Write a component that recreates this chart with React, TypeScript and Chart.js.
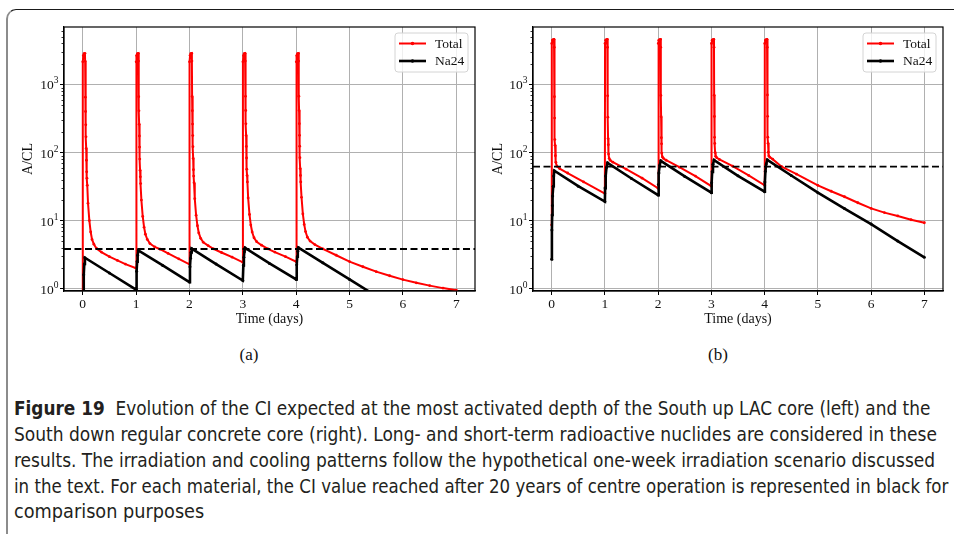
import React, { useEffect, useLayoutEffect, useRef, useState } from 'react';
import { Chart, registerables } from 'chart.js';
Chart.register(...registerables);

// ---------- data ----------
const X_TICKS = [0, 1, 2, 3, 4, 5, 6, 7];
const X_MIN = -0.35;
const X_MAX = 7.35;
const Y_TICKS = [1, 10, 100, 1000];
const Y_EXPONENTS = ['0', '1', '2', '3'];
const Y_MIN = 0.925;
const Y_MAX = 6970;
const SERIES_NAMES = ['Total', 'Na24'];

// (a) South up LAC core
const LEFT_TOTAL: number[][] = [
  [0, 0.5], [0.002, 2150], [0.012, 2650], [0.025, 2820], [0.042, 2860], [0.046, 2200],
  [0.05, 650], [0.054, 400], [0.058, 255], [0.062, 170], [0.066, 115], [0.07, 77], [0.075, 52],
  [0.08, 42], [0.086, 33], [0.1, 18], [0.125, 10], [0.15, 6.8], [0.175, 5.3], [0.21, 4.5],
  [0.26, 3.9], [0.35, 3.45], [0.5, 2.95], [0.65, 2.6], [0.8, 2.3], [1.0, 2.0],
  [1.002, 2150], [1.012, 2650], [1.025, 2820], [1.042, 2860], [1.046, 2200],
  [1.05, 660], [1.054, 410], [1.058, 260], [1.062, 175], [1.066, 120], [1.07, 80], [1.075, 55],
  [1.08, 44], [1.086, 35], [1.1, 20], [1.125, 11.5], [1.15, 8], [1.175, 6.3], [1.21, 5.3],
  [1.26, 4.6], [1.35, 4.1], [1.45, 3.8], [1.6, 3.3], [1.8, 2.75], [2.0, 2.28],
  [2.002, 2150], [2.012, 2650], [2.025, 2820], [2.042, 2860], [2.046, 2200],
  [2.05, 665], [2.054, 412], [2.058, 262], [2.062, 177], [2.066, 122], [2.07, 82], [2.075, 56],
  [2.08, 45], [2.086, 36], [2.1, 21], [2.125, 12], [2.15, 8.4], [2.175, 6.6], [2.21, 5.5],
  [2.26, 4.8], [2.35, 4.3], [2.45, 3.85], [2.6, 3.4], [2.8, 2.9], [3.0, 2.44],
  [3.002, 2150], [3.012, 2650], [3.025, 2820], [3.042, 2860], [3.046, 2200],
  [3.05, 668], [3.054, 414], [3.058, 264], [3.062, 178], [3.066, 123], [3.07, 83], [3.075, 57],
  [3.08, 46], [3.086, 37], [3.1, 21.5], [3.125, 12.3], [3.15, 8.6], [3.175, 6.8], [3.21, 5.6],
  [3.26, 4.9], [3.35, 4.35], [3.47, 3.85], [3.6, 3.45], [3.8, 2.95], [4.0, 2.49],
  [4.002, 2150], [4.012, 2650], [4.025, 2820], [4.042, 2860], [4.046, 2200],
  [4.05, 670], [4.054, 415], [4.058, 265], [4.062, 179], [4.066, 124], [4.07, 84], [4.075, 58],
  [4.08, 46], [4.086, 37], [4.1, 22], [4.125, 12.5], [4.15, 8.8], [4.175, 6.9], [4.21, 5.7],
  [4.26, 5.0], [4.35, 4.45], [4.5, 3.85], [4.75, 3.1], [5.0, 2.5], [5.25, 2.1], [5.5, 1.78],
  [5.75, 1.55], [6.0, 1.36], [6.25, 1.22], [6.5, 1.11], [6.75, 1.02], [7.0, 0.95],
];
const LEFT_NA24: number[][] = [
  [0, 0.14], [0.01, 0.9], [0.02, 1.6], [0.03, 2.3], [0.042, 2.85], [0.5, 1.7], [1.0, 0.97],
  [1.01, 1.8], [1.02, 2.5], [1.03, 3.1], [1.042, 3.65], [1.5, 2.2], [2.0, 1.25],
  [2.01, 2.1], [2.02, 2.8], [2.03, 3.4], [2.042, 3.88], [2.5, 2.3], [3.0, 1.32],
  [3.01, 2.2], [3.02, 2.9], [3.03, 3.5], [3.042, 3.98], [3.5, 2.35], [4.0, 1.37],
  [4.01, 2.25], [4.02, 2.95], [4.03, 3.55], [4.042, 4.02], [4.5, 2.4], [5.0, 1.37],
  [5.5, 0.78], [6.0, 0.45], [6.5, 0.26], [7.0, 0.15],
];
const LEFT_CI = 3.83;

// (b) South down regular concrete core
const RIGHT_TOTAL: number[][] = [
  [0, 8.6], [0.003, 4000], [0.015, 4450], [0.03, 4550], [0.045, 4590], [0.049, 3500],
  [0.052, 660], [0.056, 320], [0.06, 155], [0.064, 128], [0.07, 90], [0.08, 72], [0.1, 63],
  [0.15, 58], [0.3, 50], [0.6, 37], [1.0, 25],
  [1.003, 4000], [1.015, 4450], [1.03, 4550], [1.045, 4590], [1.049, 3500],
  [1.052, 680], [1.056, 330], [1.06, 160], [1.064, 130], [1.07, 95], [1.08, 82], [1.1, 77],
  [1.15, 72], [1.4, 57], [1.7, 42], [2.0, 29.8],
  [2.003, 4000], [2.015, 4450], [2.03, 4550], [2.045, 4590], [2.049, 3500],
  [2.052, 690], [2.056, 335], [2.06, 165], [2.064, 134], [2.07, 98], [2.08, 86], [2.1, 82],
  [2.15, 77], [2.4, 61], [2.7, 45], [3.0, 32],
  [3.003, 4000], [3.015, 4450], [3.03, 4550], [3.045, 4590], [3.049, 3500],
  [3.052, 695], [3.056, 338], [3.06, 167], [3.064, 136], [3.07, 100], [3.08, 88], [3.1, 84],
  [3.15, 79], [3.4, 63], [3.7, 46], [4.0, 33],
  [4.003, 4000], [4.015, 4450], [4.03, 4550], [4.045, 4590], [4.049, 3500],
  [4.052, 700], [4.056, 340], [4.06, 168], [4.064, 137], [4.07, 101], [4.08, 89], [4.1, 85],
  [4.15, 80], [4.32, 62], [4.6, 48], [5.0, 33], [5.25, 27], [5.5, 22.4], [5.75, 18.3],
  [6.0, 15.1], [6.25, 13.1], [6.5, 11.7], [6.75, 10.3], [7.0, 9.3],
];
const RIGHT_NA24: number[][] = [
  [0, 2.7], [0.005, 7.3], [0.01, 12.1], [0.015, 16.6], [0.02, 23], [0.03, 32], [0.04, 45],
  [0.05, 54], [0.5, 32], [1.0, 19.0],
  [1.005, 30], [1.015, 45], [1.03, 60], [1.05, 70.6], [1.5, 41.5], [2.0, 23.7],
  [2.005, 34], [2.015, 50], [2.03, 65], [2.05, 75.5], [2.5, 44.5], [3.0, 25.7],
  [3.005, 36], [3.015, 52], [3.03, 67], [3.05, 77.5], [3.5, 45.5], [4.0, 26.6],
  [4.005, 37], [4.015, 53], [4.03, 68], [4.05, 78], [4.5, 46], [5.0, 25.7],
  [5.5, 15.0], [6.0, 8.9], [6.5, 5.0], [7.0, 2.89],
];
const RIGHT_CI = 61.9;

const CAPTION_LINES = [
  'Evolution of the CI expected at the most activated depth of the South up LAC core (left) and the',
  'South down regular concrete core (right). Long- and short-term radioactive nuclides are considered in these',
  'results. The irradiation and cooling patterns follow the hypothetical one-week irradiation scenario discussed',
  'in the text. For each material, the CI value reached after 20 years of centre operation is represented in black for',
  'comparison purposes',
];
const CAPTION_WIDTHS = [916, 923, 921, 934, 190];
const CAPTION_CENTERS = [408, 434, 460, 486, 511];

// ---------- styling ----------
const SERIF = "'Liberation Serif', 'DejaVu Serif', serif";
const RED = '#ff0000';
const BLACK = '#000000';

const extrasPlugin = {
  id: 'mplExtras',
  afterDatasetsDraw(chart: any) {
    const { ctx, chartArea } = chart;
    const ys = chart.scales.y;
    const { left, top, right, bottom } = chartArea;
    ctx.save();
    // minor ticks on log axis
    ctx.strokeStyle = '#000';
    ctx.lineWidth = 0.8;
    for (let e = -1; e <= 4; e++) {
      for (let m = 2; m <= 9; m++) {
        const v = m * Math.pow(10, e);
        if (v < Y_MIN || v > Y_MAX) continue;
        const py = Math.round(ys.getPixelForValue(v)) + 0.5;
        ctx.beginPath();
        ctx.moveTo(left - 2.5, py);
        ctx.lineTo(left, py);
        ctx.stroke();
      }
    }
    // y tick labels as 10^n
    ctx.fillStyle = '#111';
    Y_TICKS.forEach((v, i) => {
      const py = ys.getPixelForValue(v);
      const exp = Y_EXPONENTS[i];
      ctx.font = `9.5px ${SERIF}`;
      const we = ctx.measureText(exp).width;
      ctx.font = `13.5px ${SERIF}`;
      const wb = ctx.measureText('10').width;
      const R = left - 5.5;
      ctx.textBaseline = 'middle';
      ctx.textAlign = 'left';
      ctx.fillText('10', R - we - wb, py + 1.5);
      ctx.font = `9.5px ${SERIF}`;
      ctx.fillText(exp, R - we, py - 3.5);
    });
    // spines
    ctx.strokeStyle = '#000';
    ctx.lineWidth = 1.2;
    ctx.strokeRect(left, top, right - left, bottom - top);
    // legend
    const items = chart.data.datasets.filter((d: any) => SERIES_NAMES.includes(d.label));
    const w = 73, h = 39;
    const bx = right - 7 - w, by = top + 6;
    ctx.beginPath();
    const r = 3;
    ctx.moveTo(bx + r, by);
    ctx.lineTo(bx + w - r, by);
    ctx.quadraticCurveTo(bx + w, by, bx + w, by + r);
    ctx.lineTo(bx + w, by + h - r);
    ctx.quadraticCurveTo(bx + w, by + h, bx + w - r, by + h);
    ctx.lineTo(bx + r, by + h);
    ctx.quadraticCurveTo(bx, by + h, bx, by + h - r);
    ctx.lineTo(bx, by + r);
    ctx.quadraticCurveTo(bx, by, bx + r, by);
    ctx.closePath();
    ctx.fillStyle = 'rgba(255,255,255,0.8)';
    ctx.fill();
    ctx.strokeStyle = '#d4d4d4';
    ctx.lineWidth = 1;
    ctx.stroke();
    items.forEach((d: any, i: number) => {
      const yc = by + 10.5 + i * 17.5;
      ctx.strokeStyle = d.borderColor;
      ctx.lineWidth = d.borderWidth;
      ctx.beginPath();
      ctx.moveTo(bx + 4, yc);
      ctx.lineTo(bx + 31, yc);
      ctx.stroke();
      ctx.fillStyle = d.borderColor;
      ctx.beginPath();
      ctx.arc(bx + 17.5, yc, 1.8, 0, Math.PI * 2);
      ctx.fill();
      ctx.fillStyle = '#111';
      ctx.font = `13.5px ${SERIF}`;
      ctx.textAlign = 'left';
      ctx.textBaseline = 'middle';
      ctx.fillText(d.label, bx + 40, yc + 0.5);
    });
    ctx.restore();
  },
};

function toXY(arr: number[][]) {
  return arr.map(([x, y]) => ({ x, y }));
}

function makeConfig(total: number[][], na: number[][], ci: number, padLeft: number, yWidth: number, padRight: number): any {
  return {
    type: 'line',
    data: {
      datasets: [
        {
          label: 'Total', data: toXY(total), borderColor: RED, backgroundColor: RED,
          borderWidth: 2, pointRadius: 1.4, pointBorderWidth: 0, pointBackgroundColor: RED,
          tension: 0, order: 3,
        },
        {
          label: 'Na24', data: toXY(na), borderColor: BLACK, backgroundColor: BLACK,
          borderWidth: 2.6, pointRadius: 1.5, pointBorderWidth: 0, pointBackgroundColor: BLACK,
          tension: 0, order: 2,
        },
        {
          label: 'CI20y', data: toXY([[X_MIN, ci], [X_MAX, ci]]), borderColor: BLACK,
          borderWidth: 1.8, borderDash: [7, 3.5], pointRadius: 0, tension: 0, order: 1,
        },
      ],
    },
    options: {
      responsive: false,
      maintainAspectRatio: false,
      devicePixelRatio: 1,
      animation: false,
      events: [],
      layout: { padding: { left: padLeft, right: padRight, top: 27, bottom: 0 } },
      plugins: { legend: { display: false }, tooltip: { enabled: false } },
      scales: {
        x: {
          type: 'linear',
          min: X_MIN,
          max: X_MAX,
          afterBuildTicks: (s: any) => { s.ticks = X_TICKS.map((v) => ({ value: v })); },
          afterFit: (s: any) => { s.height = 49; },
          grid: { color: '#b0b0b0', lineWidth: 1, tickColor: '#000', tickLength: 4, tickWidth: 1 },
          border: { display: true, color: '#000', width: 1.2 },
          ticks: { color: '#111', font: { family: SERIF, size: 13.5 }, padding: 1, maxRotation: 0 },
          title: {
            display: true, text: 'Time (days)', color: '#111',
            font: { family: SERIF, size: 14 }, padding: { top: 0, bottom: 12 },
          },
        },
        y: {
          type: 'logarithmic',
          min: Y_MIN,
          max: Y_MAX,
          afterBuildTicks: (s: any) => { s.ticks = Y_TICKS.map((v) => ({ value: v })); },
          afterFit: (s: any) => { s.width = yWidth; },
          grid: { color: '#b0b0b0', lineWidth: 1, tickColor: '#000', tickLength: 4, tickWidth: 1 },
          border: { display: true, color: '#000', width: 1.2 },
          ticks: { display: false },
          title: {
            display: true, text: 'A/CL', color: '#111',
            font: { family: SERIF, size: 14 }, padding: { top: 0, bottom: 0 },
          },
        },
      },
    },
    plugins: [extrasPlugin],
  };
}

function Panel(props: { left: number; total: number[][]; na: number[][]; ci: number; padLeft: number; yWidth: number; padRight: number }) {
  const ref = useRef<HTMLCanvasElement>(null);
  useEffect(() => {
    if (!ref.current) return;
    const chart = new Chart(ref.current, makeConfig(props.total, props.na, props.ci, props.padLeft, props.yWidth, props.padRight));
    return () => chart.destroy();
  }, []);
  return (
    <canvas
      ref={ref}
      width={480}
      height={340}
      style={{ position: 'absolute', left: props.left, top: 0, width: 480, height: 340, display: 'block' }}
    />
  );
}

function FitLine(props: { top: number; width: number; children: any }) {
  const ref = useRef<HTMLSpanElement>(null);
  const [sx, setSx] = useState(1);
  useLayoutEffect(() => {
    const el = ref.current;
    if (!el) return;
    const w = el.offsetWidth;
    if (w > 0) setSx(props.width / w);
  }, [props.width]);
  return (
    <div style={{ position: 'absolute', left: 14, top: props.top, height: 26, lineHeight: '26px', whiteSpace: 'nowrap' }}>
      <span
        ref={ref}
        style={{ display: 'inline-block', transform: `scaleX(${sx})`, transformOrigin: '0 0' }}
      >
        {props.children}
      </span>
    </div>
  );
}

export default function App() {
  return (
    <div
      style={{
        position: 'absolute', left: 0, top: 0, width: 954, height: 534, overflow: 'hidden',
        background: '#fff',
      }}
    >
      <div
        style={{
          position: 'absolute', left: 6, top: 9, width: 1000, height: 600,
          borderTop: '1px solid #1a1a1a', borderLeft: '2px solid #8c8c8c', borderTopLeftRadius: 10,
        }}
      />
      <Panel left={0} total={LEFT_TOTAL} na={LEFT_NA24} ci={LEFT_CI} padLeft={20} yWidth={44} padRight={5} />
      <Panel left={470} total={RIGHT_TOTAL} na={RIGHT_NA24} ci={RIGHT_CI} padLeft={20} yWidth={43} padRight={7} />
      <div style={{ position: 'absolute', left: 199, width: 100, top: 344, textAlign: 'center', fontFamily: SERIF, fontSize: 17, lineHeight: '22px', color: '#111' }}>(a)</div>
      <div style={{ position: 'absolute', left: 668, width: 100, top: 344, textAlign: 'center', fontFamily: SERIF, fontSize: 17, lineHeight: '22px', color: '#111' }}>(b)</div>
      <div style={{ fontFamily: "'DejaVu Sans', sans-serif", fontStretch: 'condensed', fontSize: 20, color: '#231f20' }}>
        {CAPTION_LINES.map((line, i) => (
          <FitLine key={i} top={CAPTION_CENTERS[i] - 13} width={CAPTION_WIDTHS[i]}>
            {i === 0 ? (
              <>
                <b>Figure 19</b>
                {'\u00a0\u00a0'}
                {line}
              </>
            ) : (
              line
            )}
          </FitLine>
        ))}
      </div>
    </div>
  );
}
